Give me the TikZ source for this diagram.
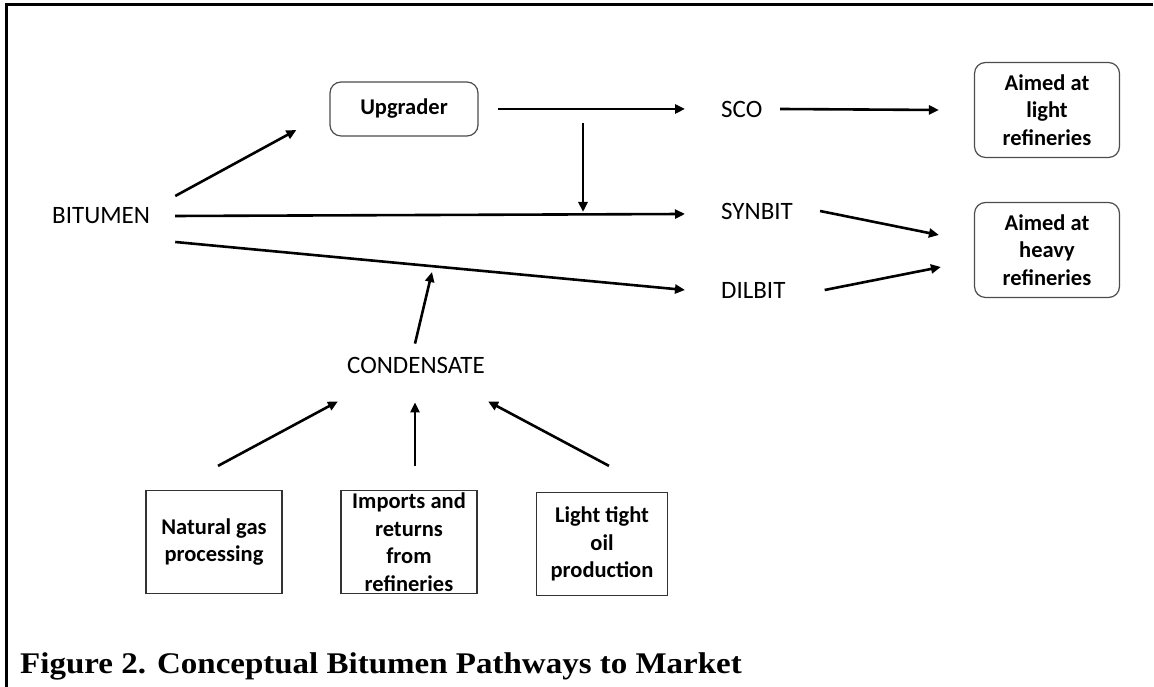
\documentclass[tikz,border=0pt]{standalone}
\usepackage{fontspec}
\setmainfont{Carlito}
\newfontfamily\capfont[FakeStretch=1.1]{Liberation Serif}
\usetikzlibrary{arrows.meta,positioning}

\begin{document}
\begin{tikzpicture}[x=1pt,y=1pt,
  every node/.style={inner sep=0pt,font=\fontsize{25}{30}\selectfont},
  lbl/.style={anchor=west},
  rbox/.style={draw=black!70,line width=1.2pt,rounded corners=11pt,align=center,
    font=\bfseries\fontsize{22.5}{27.5}\selectfont},
  sbox/.style={draw=black!80,line width=1.2pt,align=center,
    minimum width=136,minimum height=103,font=\bfseries\fontsize{22.5}{27.5}\selectfont},
  flow/.style={-{Triangle[length=10pt,width=9pt]},line width=2.6pt}]
\useasboundingbox (0,0) rectangle (1154,687);
\draw[line width=3pt] (6,0) -- (6,682) -- (1153,682);
% main line
\node[lbl] (bit) at (52,471) {BITUMEN};
\node[rbox,minimum width=148,minimum height=54] (upg) at (404,578) {Upgrader};
\node[lbl] (sco) at (721,578) {SCO};
\node[lbl] (syn) at (721,476) {SYNBIT};
\node[lbl] (dil) at (721,397) {DILBIT};
\node[rbox,minimum width=145,minimum height=95] (light) at (1047,577) {Aimed at\\light\\refineries};
\node[rbox,minimum width=145,minimum height=95] (heavy) at (1047,437) {Aimed at\\heavy\\refineries};
% diluent supply
\node (cond) at (416,322) {CONDENSATE};
\node[sbox] (gas) at (214,145) {Natural gas\\processing};
\node[sbox] (imp) at (409,145) {Imports and\\returns\\from\\refineries};
\node[sbox,minimum width=131] (lto) at (602,143) {Light tight\\oil\\production};
\node[anchor=base west,font=\capfont\bfseries\fontsize{30}{36}\selectfont] (cap) at (20,13)
  {Figure 2. Conceptual Bitumen Pathways to Market};
\coordinate (split) at (583,564);
\coordinate (merge) at (583,475);
\coordinate (mix) at (432,415);
\draw[flow] ([shift={(25,20)}]bit.east) -- ([shift={(-33,-21)}]upg.west);
\draw[flow] ([xshift=25]bit.east) -- ([shift={(-36,-3)}]syn.west);
\draw[flow] ([shift={(25,-26)}]bit.east) -- ([xshift=-36]dil.west);
\draw[flow] ([xshift=19]upg.east) -- ([xshift=-36]sco.west);
\draw[flow] (split) -- (merge);
\draw[flow] ([xshift=59]sco.west) -- ([xshift=-35]light.west);
\draw[flow] ([xshift=27]syn.east) -- ([shift={(-35,15)}]heavy.west);
\draw[flow] ([xshift=39]dil.east) -- ([shift={(-33,-17)}]heavy.west);
\draw[flow] ([shift={(-1,13)}]cond.north) -- (mix);
\draw[flow] ([shift={(4,24)}]gas.north) -- ([shift={(-9,-28)}]cond.south west);
\draw[flow] ([shift={(6,24)}]imp.north) -- ([shift={(-1,-29)}]cond.south);
\draw[flow] ([shift={(7,26)}]lto.north) -- ([shift={(3,-28)}]cond.south east);
\end{tikzpicture}
\end{document}
